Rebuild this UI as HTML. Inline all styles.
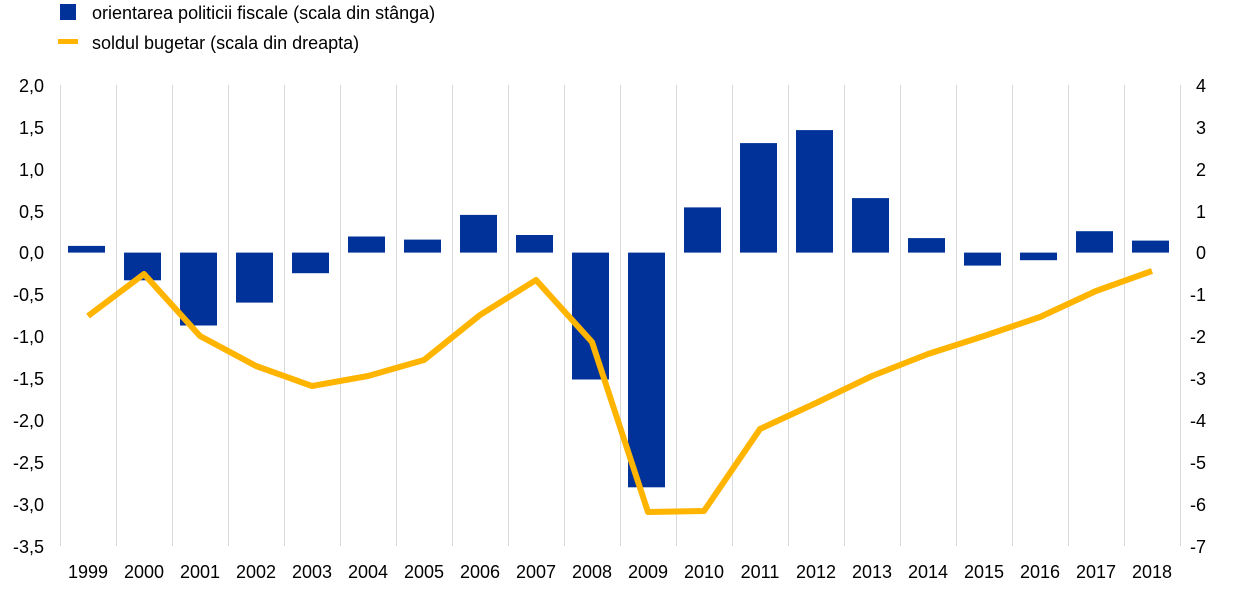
<!DOCTYPE html>
<html><head><meta charset="utf-8"><style>
html,body{margin:0;padding:0;background:#fff;}
svg{display:block;font-family:"Liberation Sans",Arial,sans-serif;}
</style></head><body>
<svg width="1240" height="590" xmlns="http://www.w3.org/2000/svg">
<rect x="60" y="4" width="16" height="16" fill="#003299"/>
<text x="92" y="19" font-size="18" fill="#000">orientarea politicii fiscale (scala din stânga)</text>
<rect x="58" y="39" width="20" height="5" fill="#FFB400"/>
<text x="92" y="49" font-size="18" fill="#000">soldul bugetar (scala din dreapta)</text>
<g stroke="#d9d9d9" stroke-width="1">
<line x1="60.5" y1="85" x2="60.5" y2="546"/>
<line x1="116.5" y1="85" x2="116.5" y2="546"/><line x1="172.5" y1="85" x2="172.5" y2="546"/>
<line x1="228.5" y1="85" x2="228.5" y2="546"/><line x1="284.5" y1="85" x2="284.5" y2="546"/>
<line x1="340.5" y1="85" x2="340.5" y2="546"/><line x1="396.5" y1="85" x2="396.5" y2="546"/>
<line x1="452.5" y1="85" x2="452.5" y2="546"/><line x1="508.5" y1="85" x2="508.5" y2="546"/>
<line x1="564.5" y1="85" x2="564.5" y2="546"/><line x1="620.5" y1="85" x2="620.5" y2="546"/>
<line x1="676.5" y1="85" x2="676.5" y2="546"/><line x1="732.5" y1="85" x2="732.5" y2="546"/>
<line x1="788.5" y1="85" x2="788.5" y2="546"/><line x1="844.5" y1="85" x2="844.5" y2="546"/>
<line x1="900.5" y1="85" x2="900.5" y2="546"/><line x1="956.5" y1="85" x2="956.5" y2="546"/>
<line x1="1012.5" y1="85" x2="1012.5" y2="546"/><line x1="1068.5" y1="85" x2="1068.5" y2="546"/>
<line x1="1124.5" y1="85" x2="1124.5" y2="546"/><line x1="1180.5" y1="85" x2="1180.5" y2="546"/>
</g>
<g fill="#003299">
<rect x="68" y="245.9" width="37" height="6.7"/>
<rect x="124" y="252.6" width="37" height="27.7"/>
<rect x="180" y="252.6" width="37" height="72.9"/>
<rect x="236" y="252.6" width="37" height="50"/>
<rect x="292" y="252.6" width="37" height="20.6"/>
<rect x="348" y="236.5" width="37" height="16.1"/>
<rect x="404" y="239.6" width="37" height="13"/>
<rect x="460" y="214.9" width="37" height="37.7"/>
<rect x="516" y="235.0" width="37" height="17.6"/>
<rect x="572" y="252.6" width="37" height="126.9"/>
<rect x="628" y="252.6" width="37" height="234.7"/>
<rect x="684" y="207.4" width="37" height="45.2"/>
<rect x="740" y="143.1" width="37" height="109.5"/>
<rect x="796" y="130.1" width="37" height="122.5"/>
<rect x="852" y="198.1" width="37" height="54.5"/>
<rect x="908" y="238.1" width="37" height="14.5"/>
<rect x="964" y="252.6" width="37" height="13"/>
<rect x="1020" y="252.6" width="37" height="7.6"/>
<rect x="1076" y="231.2" width="37" height="21.4"/>
<rect x="1132" y="240.6" width="37" height="12"/>
</g>
<polyline fill="none" stroke="#FFB400" stroke-width="6" stroke-linejoin="round" points="88,316 144,274 200,336 256,366 312,386 368,376 424,360 480,315 536,280 592,342 648,512 704,511 760,429 816,403 872,376 928,354 984,336 1040,317 1096,291 1152,271"/>
<g font-size="18" fill="#000" text-anchor="end">
<text x="44" y="92">2,0</text><text x="44" y="134">1,5</text><text x="44" y="176">1,0</text>
<text x="44" y="218">0,5</text><text x="44" y="259">0,0</text><text x="44" y="301">-0,5</text>
<text x="44" y="343">-1,0</text><text x="44" y="385">-1,5</text><text x="44" y="427">-2,0</text>
<text x="44" y="469">-2,5</text><text x="44" y="511">-3,0</text><text x="44" y="553">-3,5</text>
</g>
<g font-size="18" fill="#000" text-anchor="start">
<text x="1196" y="92">4</text><text x="1196" y="134">3</text><text x="1196" y="176">2</text>
<text x="1196" y="218">1</text><text x="1196" y="259">0</text><text x="1190" y="301">-1</text>
<text x="1190" y="343">-2</text><text x="1190" y="385">-3</text><text x="1190" y="427">-4</text>
<text x="1190" y="469">-5</text><text x="1190" y="511">-6</text><text x="1190" y="553">-7</text>
</g>
<g font-size="18" fill="#000" text-anchor="middle">
<text x="88" y="578">1999</text><text x="144" y="578">2000</text><text x="200" y="578">2001</text>
<text x="256" y="578">2002</text><text x="312" y="578">2003</text><text x="368" y="578">2004</text>
<text x="424" y="578">2005</text><text x="480" y="578">2006</text><text x="536" y="578">2007</text>
<text x="592" y="578">2008</text><text x="648" y="578">2009</text><text x="704" y="578">2010</text>
<text x="760" y="578">2011</text><text x="816" y="578">2012</text><text x="872" y="578">2013</text>
<text x="928" y="578">2014</text><text x="984" y="578">2015</text><text x="1040" y="578">2016</text>
<text x="1096" y="578">2017</text><text x="1152" y="578">2018</text>
</g>
</svg>
</body></html>
